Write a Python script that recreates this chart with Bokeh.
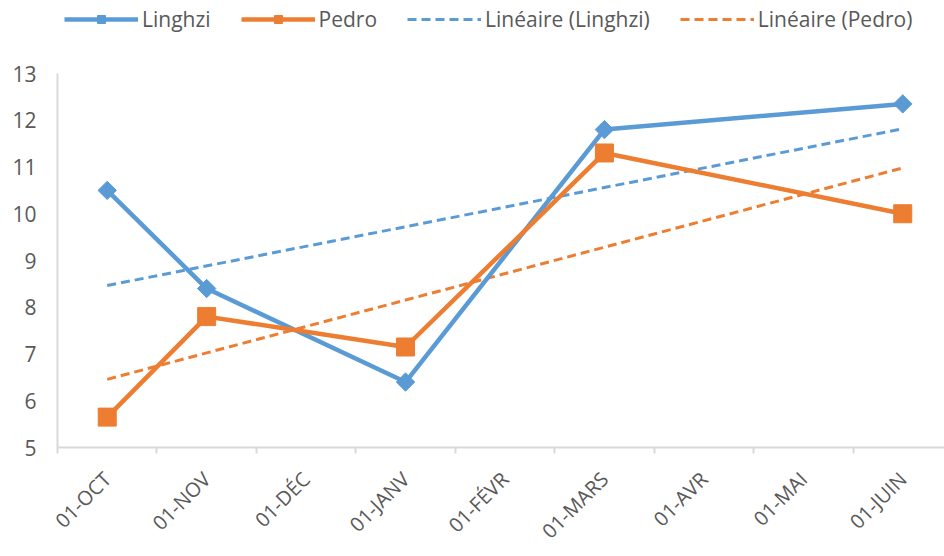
import numpy as np
from bokeh.plotting import figure
from bokeh.layouts import column
from bokeh.models import Range1d, FixedTicker, Legend, LegendItem
from bokeh.embed import file_html
from bokeh.resources import INLINE
from math import pi

# ---- data ----
tick_labels = ["01-OCT", "01-NOV", "01-DÉC", "01-JANV", "01-FÉVR",
               "01-MARS", "01-AVR", "01-MAI", "01-JUIN"]
point_months = ["01-OCT", "01-NOV", "01-JANV", "01-MARS", "01-JUIN"]
linghzi = [10.5, 8.4, 6.4, 11.8, 12.35]
pedro = [5.65, 7.8, 7.15, 11.3, 10.0]
y_ticks = [5, 6, 7, 8, 9, 10, 11, 12, 13]
series_names = ["Linghzi", "Pedro", "Linéaire (Linghzi)", "Linéaire (Pedro)"]

BLUE = "#5B9BD5"
ORANGE = "#ED7D31"
GREY_TXT = "#595959"
AXIS = "#D9D9D9"
FONT = "Open Sans"

idx = [tick_labels.index(m) for m in point_months]
x = [i + 0.5 for i in idx]


# linear trendlines (least squares on month index, like Excel)
def trend(vals):
    a, b = np.polyfit(idx, vals, 1)
    xs = [min(idx), max(idx)]
    return [v + 0.5 for v in xs], [a * v + b for v in xs]


W = 944
LEG_H = 50
MAIN_H = 556 - LEG_H

# ---------------- main chart ----------------
p = figure(width=W, height=MAIN_H, output_backend="svg", toolbar_location=None,
           x_range=Range1d(0, 8.92), y_range=Range1d(5, 13),
           min_border_left=57, min_border_right=0, min_border_top=23,
           min_border_bottom=106)
p.outline_line_color = None
p.xgrid.visible = False
p.ygrid.visible = False

# y axis
p.yaxis.ticker = FixedTicker(ticks=y_ticks)
p.yaxis.major_tick_out = 0
p.yaxis.major_tick_in = 0
p.yaxis.minor_tick_out = 0
p.yaxis.minor_tick_in = 0
p.yaxis.axis_line_color = AXIS
p.yaxis.axis_line_width = 2
p.yaxis.major_label_standoff = 21
p.yaxis.major_label_text_font = FONT
p.yaxis.major_label_text_font_size = "21px"
p.yaxis.major_label_text_color = GREY_TXT

# x axis: labels at month centres, ticks at month boundaries
p.xaxis.ticker = FixedTicker(ticks=[i + 0.5 for i in range(len(tick_labels))],
                             minor_ticks=list(range(len(tick_labels) + 1)))
p.xaxis.major_label_overrides = {i + 0.5: t for i, t in enumerate(tick_labels)}
p.xaxis.major_tick_out = 0
p.xaxis.major_tick_in = 0
p.xaxis.minor_tick_out = 6
p.xaxis.minor_tick_in = 0
p.xaxis.minor_tick_line_color = AXIS
p.xaxis.minor_tick_line_width = 2
p.xaxis.axis_line_color = AXIS
p.xaxis.axis_line_width = 2
p.xaxis.major_label_orientation = pi / 4
p.xaxis.major_label_standoff = 22
p.xaxis.major_label_text_font = FONT
p.xaxis.major_label_text_font_size = "20px"
p.xaxis.major_label_text_color = GREY_TXT

# trendlines
tx, ty = trend(linghzi)
p.line(tx, ty, line_color=BLUE, line_width=3, line_dash="9 5")
tx2, ty2 = trend(pedro)
p.line(tx2, ty2, line_color=ORANGE, line_width=3, line_dash="9 5")

# series
p.line(x, linghzi, line_color=BLUE, line_width=4.5)
p.scatter(x, linghzi, marker="square", angle=pi / 4, size=13,
          fill_color=BLUE, line_color=BLUE)
p.line(x, pedro, line_color=ORANGE, line_width=4.5)
p.scatter(x, pedro, marker="square", size=18,
          fill_color=ORANGE, line_color=ORANGE)

# ---------------- legend strip ----------------
lg = figure(width=W, height=LEG_H, output_backend="svg", toolbar_location=None,
            x_range=Range1d(0, 1), y_range=Range1d(0, 1),
            min_border_left=0, min_border_right=0, min_border_top=0,
            min_border_bottom=0)
lg.outline_line_color = None
lg.axis.visible = False
lg.grid.visible = False
off = [-5, -4]
g1 = lg.line(off, off, line_color=BLUE, line_width=4.5)
g2 = lg.scatter(off, off, marker="square", angle=pi / 4, size=13,
                fill_color=BLUE, line_color=BLUE)
g3 = lg.line(off, off, line_color=ORANGE, line_width=4.5)
g4 = lg.scatter(off, off, marker="square", size=18,
                fill_color=ORANGE, line_color=ORANGE)
g5 = lg.line(off, off, line_color=BLUE, line_width=3, line_dash="9 5")
g6 = lg.line(off, off, line_color=ORANGE, line_width=3, line_dash="9 5")

legend = Legend(items=[
    LegendItem(label=series_names[0], renderers=[g1, g2]),
    LegendItem(label=series_names[1], renderers=[g3, g4]),
    LegendItem(label=series_names[2], renderers=[g5]),
    LegendItem(label=series_names[3], renderers=[g6]),
], orientation="horizontal", location=(7, 17))
legend.glyph_width = 74
legend.glyph_height = 20
legend.label_standoff = 4
legend.spacing = 30
legend.padding = 2
legend.margin = 0
legend.border_line_color = None
legend.background_fill_alpha = 0
legend.label_text_font = FONT
legend.label_text_font_size = "21px"
legend.label_text_color = GREY_TXT
lg.add_layout(legend, "center")

layout = column(lg, p, spacing=0)
open("out.html", "w").write(file_html(layout, INLINE))
